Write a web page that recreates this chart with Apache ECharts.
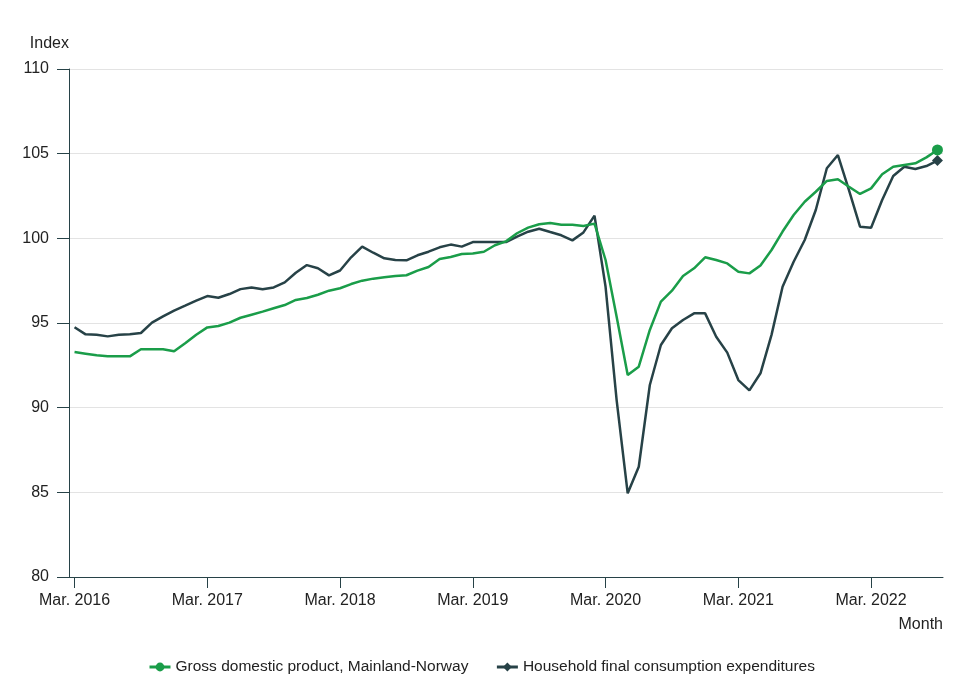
<!DOCTYPE html>
<html>
<head>
<meta charset="utf-8">
<script src="https://cdn.jsdelivr.net/npm/echarts@6/dist/echarts.min.js"></script>
<style>
html,body{margin:0;padding:0;background:#fff;}
#chart{width:980px;height:685px;}
</style>
</head>
<body>
<div id="chart"></div>
<script>
const monthNames = ['Jan.','Feb.','Mar.','Apr.','May','Jun.','Jul.','Aug.','Sep.','Oct.','Nov.','Dec.'];
const startYear = 2016, startMonth = 2; // Mar. 2016
const monthCount = 79;                  // to Sep. 2022
const categories = [];
for (let k = 0; k < monthCount; k++) {
  const m = (startMonth + k) % 12;
  const y = startYear + Math.floor((startMonth + k) / 12);
  categories.push(monthNames[m] + ' ' + y);
}

const gdpMainland = [
  93.29, 93.19, 93.09, 93.03, 93.03, 93.03, 93.45, 93.45, 93.45, 93.33, 93.80, 94.31,
  94.74, 94.82, 95.02, 95.31, 95.49, 95.67, 95.87, 96.06, 96.36, 96.48, 96.67, 96.91,
  97.05, 97.30, 97.50, 97.62, 97.70, 97.78, 97.82, 98.09, 98.31, 98.78, 98.90, 99.07,
  99.11, 99.21, 99.59, 99.82, 100.30, 100.63, 100.83, 100.90, 100.80, 100.80, 100.73, 100.87,
  98.72, 95.37, 91.93, 92.42, 94.59, 96.26, 96.91, 97.78, 98.23, 98.88, 98.72, 98.52,
  98.03, 97.93, 98.40, 99.31, 100.40, 101.38, 102.16, 102.75, 103.39, 103.49, 103.05, 102.62,
  102.95, 103.78, 104.23, 104.33, 104.43, 104.78, 105.22
];
const householdConsumption = [
  94.75, 94.33, 94.30, 94.21, 94.30, 94.33, 94.41, 95.02, 95.39, 95.73, 96.02, 96.32,
  96.59, 96.49, 96.71, 97.00, 97.10, 96.99, 97.10, 97.40, 97.97, 98.42, 98.23, 97.81,
  98.10, 98.88, 99.51, 99.15, 98.82, 98.72, 98.70, 99.00, 99.21, 99.47, 99.63, 99.51,
  99.78, 99.78, 99.78, 99.78, 100.10, 100.39, 100.57, 100.37, 100.18, 99.88, 100.35, 101.34,
  97.14, 90.45, 84.94, 86.51, 91.34, 93.70, 94.69, 95.18, 95.57, 95.57, 94.19, 93.25,
  91.63, 91.02, 92.03, 94.30, 97.14, 98.62, 99.90, 101.67, 104.14, 104.92, 102.85, 100.69,
  100.63, 102.26, 103.68, 104.23, 104.09, 104.27, 104.59
];
const seriesNames = ['Gross domestic product, Mainland-Norway', 'Household final consumption expenditures'];
const yTicks = {min: 80, max: 110, interval: 5};

const lastIdx = categories.length - 1;
const textColor = '#222';
const axisColor = '#274247';
const font = 'Liberation Sans, Arial, sans-serif';
const isMarch = (i, v) => String(v).indexOf('Mar.') === 0;

const chart = echarts.init(document.getElementById('chart'), null, {renderer: 'canvas'});
chart.setOption({
  animation: false,
  backgroundColor: '#fff',
  textStyle: {fontFamily: font},
  grid: {left: 69, right: 37, top: 69, bottom: 108, containLabel: false},
  legend: {
    left: 143, top: 654,
    itemWidth: 21, itemHeight: 11, itemGap: 27,
    lineStyle: {width: 3},
    textStyle: {fontSize: 15.5, color: textColor, fontFamily: font},
    data: seriesNames
  },
  xAxis: {
    type: 'category',
    data: categories,
    boundaryGap: true,
    name: 'Month',
    nameLocation: 'end',
    nameGap: 0,
    nameTextStyle: {fontSize: 16, color: textColor, align: 'right', verticalAlign: 'top', padding: [40, 0, 0, 0]},
    axisLine: {lineStyle: {color: axisColor, width: 1}},
    axisTick: {show: true, alignWithLabel: true, length: 11, interval: isMarch, lineStyle: {color: axisColor}},
    axisLabel: {interval: isMarch, fontSize: 16, color: textColor, margin: 16,
      formatter: v => v},
    splitLine: {show: false}
  },
  yAxis: {
    type: 'value',
    min: yTicks.min, max: yTicks.max, interval: yTicks.interval,
    name: 'Index',
    nameLocation: 'end',
    nameGap: 25,
    nameTextStyle: {fontSize: 16, color: textColor, align: 'right', verticalAlign: 'middle'},
    axisLine: {show: true, lineStyle: {color: axisColor, width: 1}},
    axisTick: {show: true, length: 12, lineStyle: {color: axisColor}},
    axisLabel: {fontSize: 16, color: textColor, margin: 20},
    splitLine: {show: true, lineStyle: {color: '#e3e3e3', width: 1}}
  },
  series: [
    {
      name: seriesNames[0],
      type: 'line',
      data: gdpMainland,
      color: '#1a9d49',
      lineStyle: {width: 2.5, color: '#1a9d49'},
      symbol: 'circle',
      showSymbol: true,
      showAllSymbol: true,
      symbolSize: (v, p) => p.dataIndex === lastIdx ? 11 : 0,
      itemStyle: {color: '#1a9d49'},
      z: 3
    },
    {
      name: seriesNames[1],
      type: 'line',
      data: householdConsumption,
      color: '#274247',
      lineStyle: {width: 2.5, color: '#274247'},
      symbol: 'diamond',
      showSymbol: true,
      showAllSymbol: true,
      symbolSize: (v, p) => p.dataIndex === lastIdx ? 11 : 0,
      itemStyle: {color: '#274247'},
      z: 2
    }
  ]
});
</script>
</body>
</html>
